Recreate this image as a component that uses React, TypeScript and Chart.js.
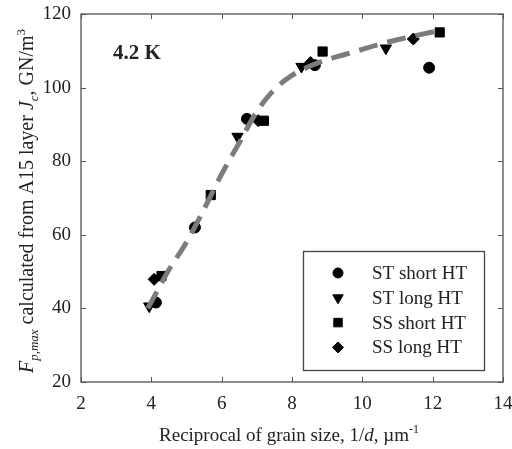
import React, { useEffect, useRef } from 'react';
import { Chart, registerables } from 'chart.js';
import { drawPoint } from 'chart.js/helpers';

Chart.register(...registerables);

const xTicks = [2, 4, 6, 8, 10, 12, 14];
const yTicks = [20, 40, 60, 80, 100, 120];

const legendLabels = ['ST short HT', 'ST long HT', 'SS short HT', 'SS long HT'];

const stShortHT = [
  { x: 4.13, y: 41.6 },
  { x: 5.24, y: 62.0 },
  { x: 6.72, y: 91.5 },
  { x: 8.65, y: 106.1 },
  { x: 11.9, y: 105.4 },
];
const stLongHT = [
  { x: 3.94, y: 40.6 },
  { x: 6.45, y: 86.7 },
  { x: 8.27, y: 105.7 },
  { x: 10.67, y: 110.7 },
];
const ssShortHT = [
  { x: 4.29, y: 48.8 },
  { x: 5.69, y: 70.8 },
  { x: 7.2, y: 91.0 },
  { x: 8.87, y: 109.8 },
  { x: 12.2, y: 115.0 },
];
const ssLongHT = [
  { x: 4.08, y: 47.9 },
  { x: 7.04, y: 91.0 },
  { x: 8.53, y: 106.8 },
  { x: 11.45, y: 113.2 },
];

const fitX = [3.9, 4.5, 5.0, 5.5, 6.0, 6.5, 7.0, 7.5, 8.0, 8.5, 9.0, 9.5, 10.0, 10.5, 11.0, 11.5, 12.2];
const fitY = [40, 50.5, 58, 67, 76.5, 85, 93.5, 99.5, 103.3, 105.8, 107.6, 109.0, 110.4, 111.8, 113.0, 114.1, 115.5];

const SERIF = "'Liberation Serif', 'Times New Roman', serif";

const markerStyles = [
  { pointStyle: 'circle', radius: 5.5, rotation: 0 },
  { pointStyle: 'triangle', radius: 6.5, rotation: 180 },
  { pointStyle: 'rect', radius: 6.5, rotation: 0 },
  { pointStyle: 'rectRot', radius: 6, rotation: 0 },
];

const decorPlugin = {
  id: 'decor',
  afterDraw(chart: any) {
    const ctx = chart.ctx as CanvasRenderingContext2D;
    const { left, right, top, bottom } = chart.chartArea;
    const xs = chart.scales.x;
    const ys = chart.scales.y;
    ctx.save();
    // frame
    ctx.strokeStyle = '#444';
    ctx.lineWidth = 1.2;
    ctx.strokeRect(left, top, right - left, bottom - top);
    // inward ticks
    ctx.strokeStyle = '#555';
    ctx.lineWidth = 1;
    ctx.beginPath();
    const tl = 5;
    xTicks.forEach((v) => {
      const px = Math.round(xs.getPixelForValue(v)) + 0.5;
      ctx.moveTo(px, bottom);
      ctx.lineTo(px, bottom - tl);
      ctx.moveTo(px, top);
      ctx.lineTo(px, top + tl);
    });
    yTicks.forEach((v) => {
      const py = Math.round(ys.getPixelForValue(v)) + 0.5;
      ctx.moveTo(left, py);
      ctx.lineTo(left + tl, py);
      ctx.moveTo(right, py);
      ctx.lineTo(right - tl, py);
    });
    ctx.stroke();

    ctx.fillStyle = '#222';
    // annotation
    ctx.font = `bold 21px ${SERIF}`;
    ctx.textBaseline = 'alphabetic';
    ctx.textAlign = 'left';
    ctx.fillText('4.2 K', 113, 59);

    // x title
    const xParts: [string, string, number][] = [
      ['Reciprocal of grain size, 1/', `19px ${SERIF}`, 0],
      ['d', `italic 19px ${SERIF}`, 0],
      [', \u00b5m', `19px ${SERIF}`, 0],
      ['-1', `12px ${SERIF}`, -8],
    ];
    let total = 0;
    xParts.forEach(([t, f]) => {
      ctx.font = f;
      total += ctx.measureText(t).width;
    });
    let cx = 289 - total / 2;
    xParts.forEach(([t, f, dy]) => {
      ctx.font = f;
      ctx.fillText(t, cx, 441 + dy);
      cx += ctx.measureText(t).width;
    });

    // y title (rotated)
    const yParts: [string, string, number][] = [
      ['F', `italic 20px ${SERIF}`, 0],
      ['p,max', `italic 13px ${SERIF}`, 5],
      [' calculated from A15 layer ', `20px ${SERIF}`, 0],
      ['J', `italic 20px ${SERIF}`, 0],
      ['c', `italic 13px ${SERIF}`, 5],
      [', GN/m', `20px ${SERIF}`, 0],
      ['3', `13px ${SERIF}`, -8],
    ];
    total = 0;
    yParts.forEach(([t, f]) => {
      ctx.font = f;
      total += ctx.measureText(t).width;
    });
    ctx.save();
    ctx.translate(33, 201);
    ctx.rotate(-Math.PI / 2);
    let tx = -total / 2;
    yParts.forEach(([t, f, dy]) => {
      ctx.font = f;
      ctx.fillText(t, tx, dy);
      tx += ctx.measureText(t).width;
    });
    ctx.restore();

    // legend
    ctx.fillStyle = '#fff';
    ctx.fillRect(303, 251, 181, 119);
    ctx.strokeStyle = '#444';
    ctx.lineWidth = 1.3;
    ctx.strokeRect(303.5, 251.5, 181, 119);
    ctx.font = `19px ${SERIF}`;
    ctx.textBaseline = 'middle';
    legendLabels.forEach((lab, i) => {
      const y = 273 + i * 24.8;
      const m = markerStyles[i];
      ctx.fillStyle = '#000';
      ctx.strokeStyle = '#000';
      ctx.lineWidth = 1;
      drawPoint(ctx, { pointStyle: m.pointStyle as any, radius: m.radius - 0.5, rotation: m.rotation, borderWidth: 1 }, 338, y);
      ctx.fillStyle = '#222';
      ctx.fillText(lab, 372, y + 1);
    });
    ctx.restore();
  },
};

export default function App() {
  const ref = useRef<HTMLCanvasElement | null>(null);
  useEffect(() => {
    if (!ref.current) return;
    const series = [stShortHT, stLongHT, ssShortHT, ssLongHT];
    const scatterSets = series.map((d, i) => ({
      type: 'scatter' as const,
      label: legendLabels[i],
      data: d,
      pointStyle: markerStyles[i].pointStyle as any,
      pointRadius: markerStyles[i].radius,
      rotation: markerStyles[i].rotation,
      backgroundColor: '#000',
      borderColor: '#000',
      borderWidth: 1,
      showLine: false,
      order: 2,
    }));
    const fitData = fitX.map((x, i) => ({ x, y: fitY[i] }));
    const chart = new Chart(ref.current, {
      type: 'scatter',
      data: {
        datasets: [
          ...scatterSets,
          {
            type: 'line' as const,
            label: 'fit',
            data: fitData,
            borderColor: '#7c7c7c',
            borderWidth: 5,
            borderDash: [19, 10],
            pointRadius: 0,
            fill: false,
            cubicInterpolationMode: 'monotone',
            showLine: true,
            order: 0,
          } as any,
        ],
      },
      options: {
        responsive: false,
        animation: false,
        devicePixelRatio: 1,
        layout: { padding: { top: 14, right: 9, left: 0, bottom: 0 } },
        plugins: {
          legend: { display: false },
          tooltip: { enabled: false },
        },
        scales: {
          x: {
            type: 'linear',
            min: 2,
            max: 14,
            grid: { display: false, drawTicks: false },
            border: { display: false },
            ticks: {
              stepSize: 2,
              padding: 11,
              color: '#222',
              font: { family: SERIF, size: 19 },
              maxRotation: 0,
            },
            afterFit: (s: any) => {
              s.height = 67;
              s.paddingLeft = 0;
              s.paddingRight = 0;
            },
          },
          y: {
            type: 'linear',
            min: 20,
            max: 120,
            grid: { display: false, drawTicks: false },
            border: { display: false },
            ticks: {
              stepSize: 20,
              padding: 10,
              color: '#222',
              font: { family: SERIF, size: 19 },
            },
            afterFit: (s: any) => {
              s.width = 81;
              s.paddingTop = 0;
              s.paddingBottom = 0;
            },
          },
        },
      },
      plugins: [decorPlugin],
    });
    return () => chart.destroy();
  }, []);
  return (
    <div style={{ position: 'absolute', left: 0, top: 0, width: 512, height: 449, background: '#fff' }}>
      <canvas ref={ref} width={512} height={449} style={{ width: 512, height: 449 }} />
    </div>
  );
}
